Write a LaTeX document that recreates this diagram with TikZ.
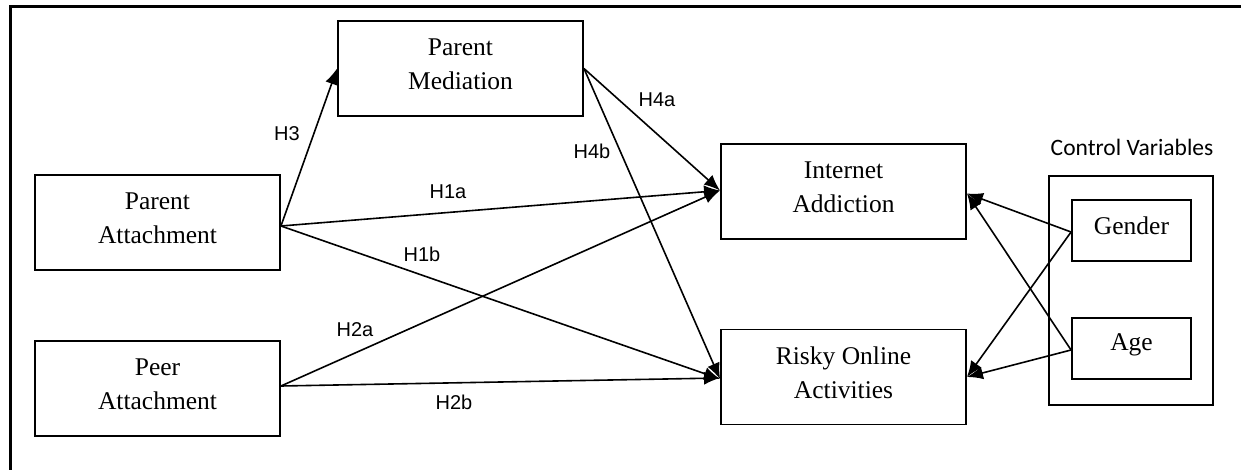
\documentclass[tikz,border=0pt]{standalone}
\usepackage{fontspec}
\setmainfont{Liberation Serif}
\newfontfamily\lblfont{Liberation Sans}
\newfontfamily\cvfont{Carlito}
\usetikzlibrary{arrows.meta}
\begin{document}
\begin{tikzpicture}[x=1pt,y=-1pt,
  boxnode/.style={draw, line width=1.9pt, minimum width=245pt, minimum height=95pt, inner sep=0pt},
  smallbox/.style={draw, line width=1.9pt, minimum width=119pt, minimum height=61pt, inner sep=0pt},
  boxtext/.style={inner sep=0pt, align=center, font=\fontsize{25.5}{34}\selectfont},
  lbl/.style={font=\lblfont\fontsize{20}{24}\selectfont, inner sep=0pt},
  arr/.style={line width=1.6pt, -{Latex[length=16pt,width=13pt]}}]
\useasboundingbox (0,0) rectangle (1241,470);
% outer frame (top and left visible)
\draw[line width=3pt] (10,470) -- (10,7) -- (1241,7);

\node[boxnode] (pm) at (460.5,68.5) {};
\node[boxnode] (pa) at (157.5,222.5) {};
\node[boxnode] (pe) at (157.5,388.5) {};
\node[boxnode] (ia) at (843.5,191.5) {};
\node[boxnode] (ro) at (843.5,377) {};
\node[draw, line width=1.9pt, minimum width=164pt, minimum height=229pt, inner sep=0pt] (cv) at (1131,290.5) {};
\node[smallbox] (ge) at (1131.5,230.5) {};
\node[smallbox] (ag) at (1131.5,348.5) {};

\node[boxtext] (pmt) at ([yshift=4pt]pm.center) {Parent\\Mediation};
\node[boxtext] (pat) at ([yshift=4pt]pa.center) {Parent\\Attachment};
\node[boxtext] (pet) at ([yshift=4pt]pe.center) {Peer\\Attachment};
\node[boxtext] (iat) at ([yshift=4pt]ia.center) {Internet\\Addiction};
\node[boxtext] (rot) at ([yshift=4pt]ro.center) {Risky Online\\Activities};
\node[boxtext] (get) at ([yshift=5pt]ge.center) {Gender};
\node[boxtext] (agt) at ([yshift=4pt]ag.center) {Age};
\node[font=\cvfont\fontsize{23.5}{28}\selectfont, inner sep=0pt] (cvt) at (1132,147) {Control Variables};

\coordinate (paout) at ([yshift=-3.5pt]pa.east);
\coordinate (peout) at ([yshift=2.5pt]pe.east);

\draw[arr] (paout) -- (pm.west);
\draw[arr] (paout) -- ([yshift=1pt]ia.west);
\draw[arr] (paout) -- ([yshift=-2pt]ro.west);
\draw[arr] (peout) -- ([yshift=1pt]ia.west);
\draw[arr] (peout) -- ([yshift=-1pt]ro.west);
\draw[arr] (pm.east) -- ([yshift=1pt]ia.west);
\draw[arr] (pm.east) -- ([yshift=-2pt]ro.west);
\draw[arr] ([yshift=-1.5pt]ge.west) -- ([yshift=-2pt]ia.east);
\draw[arr] ([yshift=-1.5pt]ge.west) -- (ro.east);
\draw[arr] ([yshift=-1.5pt]ag.west) -- ([yshift=-2pt]ia.east);
\draw[arr] ([yshift=-1.5pt]ag.west) -- (ro.east);

\node[lbl] (h3) at (287,134) {H3};
\node[lbl] (h1a) at (448,192) {H1a};
\node[lbl] (h1b) at (422,254) {H1b};
\node[lbl] (h2a) at (355,330) {H2a};
\node[lbl] (h2b) at (454,402) {H2b};
\node[lbl] (h4a) at (657,100) {H4a};
\node[lbl] (h4b) at (592,151) {H4b};
\end{tikzpicture}
\end{document}
